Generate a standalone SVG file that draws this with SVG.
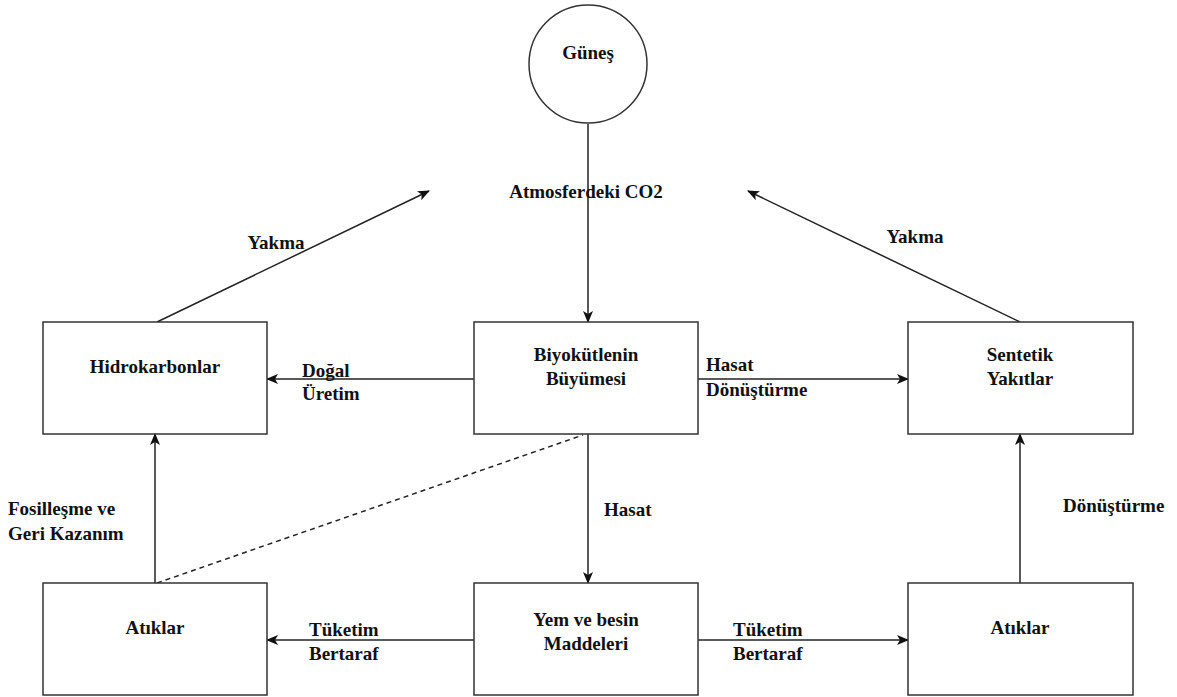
<svg xmlns="http://www.w3.org/2000/svg" width="1177" height="697" viewBox="0 0 1177 697">
<style>
.box{fill:#fff;stroke:#333;stroke-width:1.5}
.ln{fill:none;stroke:#222;stroke-width:1.5}
.dash{fill:none;stroke:#222;stroke-width:1.5;stroke-dasharray:5 4}
text{font-family:'Liberation Serif','Times New Roman',serif;font-weight:700;font-size:19px;fill:#111}
.c{text-anchor:middle}
</style>
<defs>
<marker id="ah" markerWidth="12" markerHeight="10" refX="11" refY="5" orient="auto" markerUnits="userSpaceOnUse">
<path d="M0,0 L12,5 L0,10 L3,5 z" fill="#111"/>
</marker>
</defs>
<rect width="1177" height="697" fill="#fff"/>
<g id="connectors">
<line class="ln" x1="588" y1="124" x2="588" y2="322" marker-end="url(#ah)"/>
<line class="ln" x1="157" y1="322" x2="429" y2="191" marker-end="url(#ah)"/>
<line class="ln" x1="1020" y1="322" x2="748" y2="191" marker-end="url(#ah)"/>
<line class="ln" x1="474" y1="379" x2="267" y2="379" marker-end="url(#ah)"/>
<line class="ln" x1="698" y1="379" x2="908" y2="379" marker-end="url(#ah)"/>
<line class="ln" x1="588" y1="434" x2="588" y2="583" marker-end="url(#ah)"/>
<line class="ln" x1="155" y1="583" x2="155" y2="434" marker-end="url(#ah)"/>
<line class="dash" x1="157" y1="583" x2="583" y2="435"/>
<line class="ln" x1="1020" y1="583" x2="1020" y2="434" marker-end="url(#ah)"/>
<line class="ln" x1="474" y1="640" x2="267" y2="640" marker-end="url(#ah)"/>
<line class="ln" x1="698" y1="640" x2="908" y2="640" marker-end="url(#ah)"/>
<text class="c" x="586" y="198">Atmosferdeki CO2</text>
<text class="c" x="276" y="249">Yakma</text>
<text class="c" x="915" y="243">Yakma</text>
<text x="302" y="377">Doğal</text>
<text x="302" y="400">Üretim</text>
<text x="706" y="371">Hasat</text>
<text x="706" y="396">Dönüştürme</text>
<text x="604" y="516">Hasat</text>
<text x="8" y="515">Fosilleşme ve</text>
<text x="8" y="540">Geri Kazanım</text>
<text x="1063" y="512">Dönüştürme</text>
<text x="309" y="636">Tüketim</text>
<text x="309" y="660">Bertaraf</text>
<text x="733" y="636">Tüketim</text>
<text x="733" y="660">Bertaraf</text>
</g>
<g id="gunes">
<circle class="box" cx="588" cy="64" r="59"/>
<text class="c" x="588" y="59">Güneş</text>
</g>
<g id="hidrokarbonlar">
<rect class="box" x="43" y="322" width="224" height="112"/>
<text class="c" x="155" y="373">Hidrokarbonlar</text>
</g>
<g id="biyokutle">
<rect class="box" x="474" y="322" width="224" height="112"/>
<text class="c" x="586" y="361">Biyokütlenin</text>
<text class="c" x="586" y="385">Büyümesi</text>
</g>
<g id="sentetik">
<rect class="box" x="908" y="322" width="225" height="112"/>
<text class="c" x="1020" y="361">Sentetik</text>
<text class="c" x="1020" y="385">Yakıtlar</text>
</g>
<g id="atiklar-sol">
<rect class="box" x="43" y="583" width="224" height="112"/>
<text class="c" x="155" y="634">Atıklar</text>
</g>
<g id="yem">
<rect class="box" x="474" y="583" width="224" height="112"/>
<text class="c" x="586" y="626">Yem ve besin</text>
<text class="c" x="586" y="650">Maddeleri</text>
</g>
<g id="atiklar-sag">
<rect class="box" x="908" y="583" width="225" height="112"/>
<text class="c" x="1020" y="634">Atıklar</text>
</g>
</svg>
